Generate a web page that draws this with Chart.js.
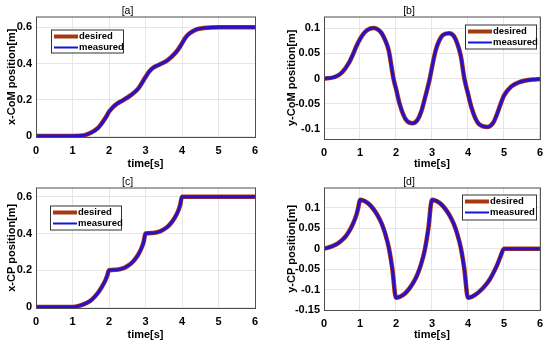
<!DOCTYPE html>
<html>
<head>
<meta charset="utf-8">
<script src="https://cdn.jsdelivr.net/npm/chart.js@4.4.0/dist/chart.umd.min.js"></script>
<style>
body { margin: 0; background: #fff; }
.panel { position: absolute; }
</style>
</head>
<body>
<div class="panel" style="left:0;top:0"><canvas id="chartA" width="275" height="172"></canvas></div>
<div class="panel" style="left:275px;top:0"><canvas id="chartB" width="275" height="172"></canvas></div>
<div class="panel" style="left:0;top:172px"><canvas id="chartC" width="275" height="173"></canvas></div>
<div class="panel" style="left:275px;top:172px"><canvas id="chartD" width="275" height="173"></canvas></div>
<script>
// [a] x-CoM
const timeA = [0, 0.5, 1, 1.3, 1.5, 1.7, 1.8, 1.9, 2, 2.1, 2.2, 2.4, 2.6, 2.8, 2.9, 3, 3.1, 3.2, 3.4, 3.6, 3.8, 3.9, 4, 4.1, 4.2, 4.4, 4.6, 5, 5.5, 6];
const xComDesired = [0, 0, 0.001, 0.004, 0.018, 0.045, 0.07, 0.1, 0.134, 0.158, 0.176, 0.2, 0.226, 0.262, 0.293, 0.326, 0.356, 0.376, 0.396, 0.418, 0.455, 0.48, 0.512, 0.545, 0.566, 0.589, 0.596, 0.6, 0.6, 0.6];
const xComMeasured = [0, 0, 0.001, 0.004, 0.017, 0.044, 0.069, 0.099, 0.133, 0.158, 0.176, 0.2, 0.226, 0.261, 0.292, 0.325, 0.355, 0.376, 0.396, 0.418, 0.454, 0.479, 0.511, 0.544, 0.566, 0.589, 0.596, 0.6, 0.6, 0.6];

// [b] y-CoM
const timeB = [0, 0.3, 0.5, 0.7, 0.8, 0.9, 1, 1.1, 1.2, 1.38, 1.5, 1.6, 1.7, 1.8, 1.93, 2, 2.1, 2.2, 2.3, 2.45, 2.6, 2.7, 2.8, 2.94, 3, 3.1, 3.2, 3.3, 3.47, 3.6, 3.7, 3.8, 3.9, 4, 4.1, 4.2, 4.3, 4.55, 4.7, 4.8, 4.9, 5, 5.2, 5.4, 5.6, 5.8, 6];
const yComDesired = [0, 0.003, 0.012, 0.032, 0.047, 0.064, 0.078, 0.089, 0.096, 0.1, 0.097, 0.09, 0.076, 0.055, 0, -0.02, -0.05, -0.071, -0.084, -0.089, -0.082, -0.066, -0.04, 0, 0.022, 0.055, 0.075, 0.086, 0.09, 0.085, 0.07, 0.045, 0, -0.03, -0.058, -0.078, -0.09, -0.096, -0.088, -0.072, -0.052, -0.034, -0.016, -0.008, -0.004, -0.002, -0.001];
const yComMeasured = [0, 0.003, 0.012, 0.032, 0.047, 0.064, 0.078, 0.089, 0.096, 0.1, 0.097, 0.09, 0.076, 0.055, 0, -0.02, -0.05, -0.071, -0.084, -0.089, -0.082, -0.066, -0.04, 0, 0.022, 0.055, 0.075, 0.086, 0.09, 0.085, 0.07, 0.045, 0, -0.03, -0.058, -0.078, -0.09, -0.096, -0.088, -0.072, -0.052, -0.034, -0.016, -0.008, -0.004, -0.002, -0.001];

// [c] x-CP
const timeC = [0, 0.5, 1, 1.2, 1.4, 1.5, 1.6, 1.7, 1.8, 1.9, 1.95, 2, 2.2, 2.4, 2.5, 2.6, 2.7, 2.8, 2.9, 2.95, 3, 3.2, 3.4, 3.5, 3.6, 3.7, 3.8, 3.9, 3.95, 4, 5, 6];
const xCpDesired = [0, 0, 0, 0.008, 0.024, 0.036, 0.055, 0.078, 0.108, 0.145, 0.17, 0.2, 0.203, 0.212, 0.222, 0.236, 0.257, 0.285, 0.325, 0.355, 0.4, 0.403, 0.412, 0.422, 0.436, 0.457, 0.485, 0.525, 0.555, 0.6, 0.6, 0.6];
const xCpMeasured = [0, 0, 0, 0.008, 0.024, 0.036, 0.055, 0.078, 0.108, 0.145, 0.17, 0.2, 0.203, 0.212, 0.222, 0.236, 0.257, 0.285, 0.325, 0.355, 0.4, 0.403, 0.412, 0.422, 0.436, 0.457, 0.485, 0.525, 0.555, 0.6, 0.6, 0.6];

// [d] y-CP
const timeD = [0, 0.2, 0.4, 0.5, 0.6, 0.7, 0.8, 0.9, 0.95, 1, 1.1, 1.2, 1.3, 1.4, 1.5, 1.6, 1.7, 1.8, 1.9, 2, 2.1, 2.2, 2.3, 2.4, 2.5, 2.6, 2.7, 2.8, 2.9, 3, 3.1, 3.2, 3.3, 3.4, 3.5, 3.6, 3.7, 3.8, 3.9, 4, 4.2, 4.4, 4.5, 4.6, 4.7, 4.8, 4.9, 5, 6];
const yCpDesired = [0, 0.005, 0.014, 0.021, 0.03, 0.043, 0.06, 0.083, 0.1, 0.12, 0.118, 0.113, 0.105, 0.094, 0.08, 0.062, 0.037, 0.003, -0.05, -0.12, -0.118, -0.113, -0.105, -0.094, -0.08, -0.062, -0.037, -0.003, 0.05, 0.12, 0.118, 0.113, 0.105, 0.094, 0.08, 0.062, 0.037, 0.003, -0.05, -0.12, -0.113, -0.098, -0.088, -0.076, -0.06, -0.042, -0.02, 0, 0];
const yCpMeasured = [0, 0.005, 0.014, 0.021, 0.03, 0.043, 0.06, 0.083, 0.1, 0.12, 0.118, 0.113, 0.105, 0.094, 0.08, 0.062, 0.037, 0.003, -0.05, -0.12, -0.118, -0.113, -0.105, -0.094, -0.08, -0.062, -0.037, -0.003, 0.05, 0.12, 0.118, 0.113, 0.105, 0.094, 0.08, 0.062, 0.037, 0.003, -0.05, -0.12, -0.113, -0.098, -0.088, -0.076, -0.06, -0.042, -0.02, 0, 0];

const timeTicks = [0, 1, 2, 3, 4, 5, 6];
const xComTicks = [0, 0.2, 0.4, 0.6];
const yComTicks = [-0.1, -0.05, 0, 0.05, 0.1];
const xCpTicks = [0, 0.2, 0.4, 0.6];
const yCpTicks = [-0.15, -0.1, -0.05, 0, 0.05, 0.1];
const seriesNames = ['desired', 'measured'];

const FONT = "'Liberation Sans', Arial, sans-serif";
const desiredColor = '#a8380e';
const measuredColor = '#2a10c8';

// matlab style box round the axes plus the framed legend
const boxPlugin = {
    id: 'boxLegend',
    afterDraw(chart, args, opts) {
        const { ctx, chartArea: a } = chart;
        ctx.save();
        ctx.strokeStyle = '#4d4d4d';
        ctx.lineWidth = 1;
        ctx.strokeRect(a.left + 0.5, a.top + 0.5, a.right - a.left, a.bottom - a.top);

        const x = a.left + opts.dx;
        const y = a.top + opts.dy;
        ctx.fillStyle = '#fff';
        ctx.fillRect(x, y, opts.w, opts.h);
        ctx.strokeStyle = '#333';
        ctx.strokeRect(x + 0.5, y + 0.5, opts.w, opts.h);
        ctx.font = 'bold 9.5px ' + FONT;
        ctx.textBaseline = 'middle';
        chart.data.datasets.forEach((ds, i) => {
            const ly = y + 7 + i * 11;
            ctx.strokeStyle = i === 0 ? ds.borderColor : '#1414d8';
            ctx.lineWidth = i === 0 ? 4 : 2;
            ctx.beginPath();
            ctx.moveTo(x + 3, ly);
            ctx.lineTo(x + 27, ly);
            ctx.stroke();
            ctx.fillStyle = '#000';
            ctx.fillText(ds.label, x + 28, ly);
        });
        ctx.restore();
    }
};

function makePanel(id, p) {
    const toPoints = (ys) => p.time.map((t, i) => ({ x: t, y: ys[i] }));
    return new Chart(document.getElementById(id), {
        type: 'line',
        data: {
            datasets: [
                // desired sits underneath, measured is drawn on top of it
                { label: seriesNames[0], data: toPoints(p.desired), borderColor: desiredColor, borderWidth: 4.5, order: 2 },
                { label: seriesNames[1], data: toPoints(p.measured), borderColor: measuredColor, borderWidth: 3, order: 1 }
            ]
        },
        options: {
            responsive: false,
            animation: false,
            layout: { padding: { left: 0, right: p.padRight, top: 0, bottom: 0 } },
            elements: {
                point: { radius: 0 },
                line: { cubicInterpolationMode: 'monotone' }
            },
            plugins: {
                legend: { display: false },
                tooltip: { enabled: false },
                title: {
                    display: true,
                    text: p.title,
                    color: '#000',
                    font: { family: FONT, size: 10.5, weight: 'normal', lineHeight: 1 },
                    padding: { top: p.titleTop, bottom: 0 }
                },
                boxLegend: p.legend
            },
            scales: {
                x: {
                    type: 'linear',
                    min: 0,
                    max: 6,
                    afterFit: (s) => { s.height = p.axisH; },
                    afterBuildTicks: (s) => { s.ticks = timeTicks.map(v => ({ value: v })); },
                    grid: { color: '#e6e6e6', drawTicks: false },
                    border: { display: false },
                    ticks: { padding: 7, color: '#000', font: { family: FONT, size: 11, weight: 'bold' } },
                    title: {
                        display: true,
                        text: 'time[s]',
                        color: '#000',
                        font: { family: FONT, size: 11, weight: 'bold' },
                        padding: { top: 0, bottom: p.xTitleBottom }
                    }
                },
                y: {
                    type: 'linear',
                    min: p.yMin,
                    max: p.yMax,
                    afterFit: (s) => { s.width = p.axisW; },
                    afterBuildTicks: (s) => { s.ticks = p.yTicks.map(v => ({ value: v })); },
                    grid: { color: '#e6e6e6', drawTicks: false },
                    border: { display: false },
                    ticks: {
                        padding: 4,
                        color: '#000',
                        font: { family: FONT, size: 11, weight: 'bold' },
                        callback: (v) => String(v)
                    },
                    title: {
                        display: true,
                        text: p.yLabel,
                        color: '#000',
                        font: { family: FONT, size: 11, weight: 'bold' },
                        padding: { top: p.yTitleTop, bottom: 0 }
                    }
                }
            }
        },
        plugins: [boxPlugin]
    });
}

makePanel('chartA', {
    title: '[a]', yLabel: 'x-CoM position[m]',
    time: timeA, desired: xComDesired, measured: xComMeasured,
    yMin: -0.005, yMax: 0.66, yTicks: xComTicks,
    axisW: 36, axisH: 35, padRight: 20, titleTop: 6, xTitleBottom: 1, yTitleTop: 5,
    legend: { dx: 15, dy: 13, w: 72, h: 23 }
});

makePanel('chartB', {
    title: '[b]', yLabel: 'y-CoM position[m]',
    time: timeB, desired: yComDesired, measured: yComMeasured,
    yMin: -0.12, yMax: 0.123, yTicks: yComTicks,
    axisW: 49, axisH: 33, padRight: 7, titleTop: 6, xTitleBottom: 1, yTitleTop: 10,
    legend: { dx: 141, dy: 8, w: 71, h: 24 }
});

makePanel('chartC', {
    title: '[c]', yLabel: 'x-CP position[m]',
    time: timeC, desired: xCpDesired, measured: xCpMeasured,
    yMin: -0.005, yMax: 0.65, yTicks: xCpTicks,
    axisW: 36, axisH: 37, padRight: 20, titleTop: 5, xTitleBottom: 3, yTitleTop: 5,
    legend: { dx: 14, dy: 18, w: 71, h: 24 }
});

makePanel('chartD', {
    title: '[d]', yLabel: 'y-CP position[m]',
    time: timeD, desired: yCpDesired, measured: yCpMeasured,
    yMin: -0.15, yMax: 0.15, yTicks: yCpTicks,
    axisW: 49, axisH: 35, padRight: 7, titleTop: 5, xTitleBottom: 3, yTitleTop: 10,
    legend: { dx: 138, dy: 7, w: 74, h: 25 }
});
</script>
</body>
</html>
